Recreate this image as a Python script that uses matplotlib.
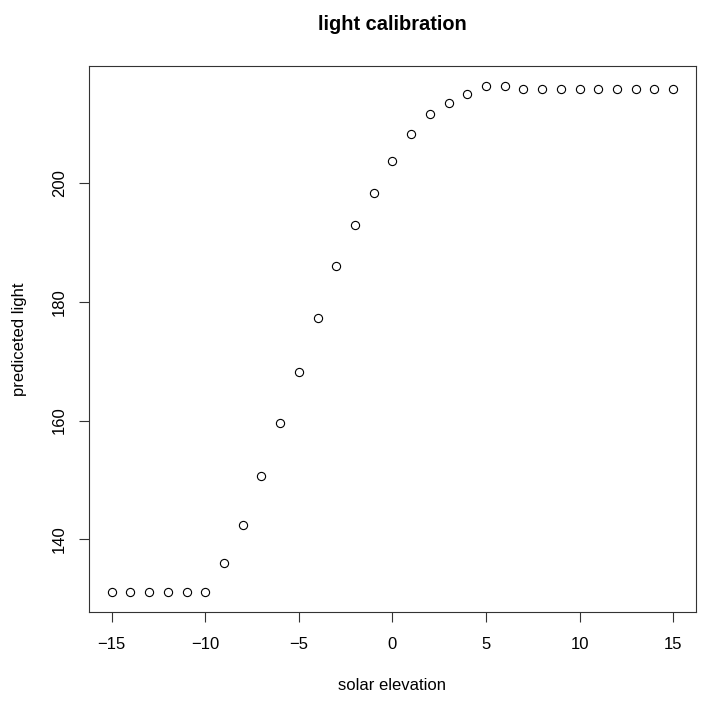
import matplotlib
matplotlib.use("Agg")
import matplotlib.pyplot as plt

# data
elevation = list(range(-15, 16))
light = [131.15, 131.15, 131.15, 131.15, 131.15, 131.15,
         136.0, 142.4, 150.7, 159.6, 168.1, 177.3, 186.1, 192.9, 198.3,
         203.8, 208.3, 211.7, 213.6, 215.1, 216.4, 216.4,
         215.85, 215.85, 215.85, 215.85, 215.85, 215.85, 215.85, 215.85, 215.85]
xticks = [-15, -10, -5, 0, 5, 10, 15]
yticks = [140, 160, 180, 200]

plt.rcParams["font.family"] = ["Liberation Sans", "DejaVu Sans"]

fig = plt.figure(figsize=(7.01, 7.02), dpi=100)
ax = fig.add_axes([0.1274, 0.1286, 0.8650, 0.7774])

ax.plot(elevation, light, linestyle="none", marker="o", markersize=5.9,
        markerfacecolor="none", markeredgecolor="black", markeredgewidth=0.8)

# R style 4% padding
xr = max(elevation) - min(elevation)
yr = max(light) - min(light)
ax.set_xlim(min(elevation) - 0.04 * xr, max(elevation) + 0.04 * xr)
ax.set_ylim(min(light) - 0.04 * yr, max(light) + 0.04 * yr)

ax.set_xticks(xticks)
ax.set_yticks(yticks)
ax.set_yticklabels([str(v) for v in yticks], rotation=90, va="center")
ax.tick_params(direction="out", length=7.5, width=0.8, labelsize=12, color="#333333")
ax.tick_params(axis="x", pad=11)
ax.tick_params(axis="y", pad=8.7)
for s in ax.spines.values():
    s.set_linewidth(0.8)
    s.set_color("#333333")

cx = (89.3 + 695.7) / 2 / 701
cy = 1 - (66 + 611.7) / 2 / 702
fig.text(cx, 1 - 24 / 702, "light calibration", ha="center", va="center",
         fontsize=14.4, fontweight="bold")
fig.text(cx, 1 - 686 / 702, "solar elevation", ha="center", va="center", fontsize=12)
fig.text(20 / 701, cy, "prediceted light", ha="center", va="center", rotation=90, fontsize=12)

fig.savefig("out.png", dpi=100)
